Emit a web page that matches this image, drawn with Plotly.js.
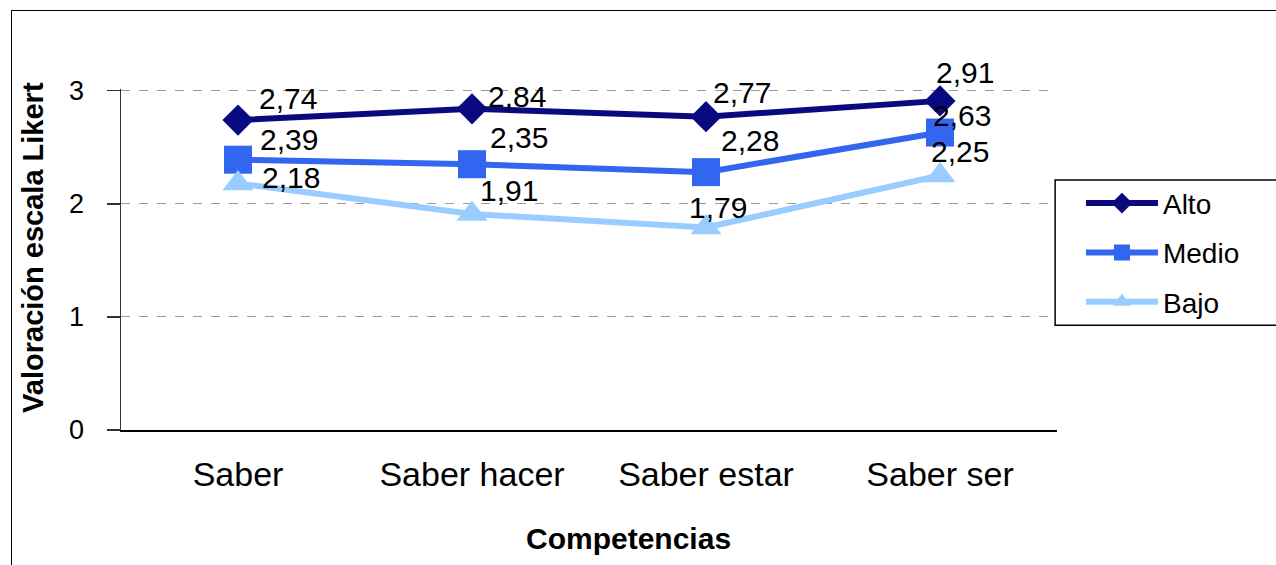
<!DOCTYPE html>
<html>
<head>
<meta charset="utf-8">
<script src="https://cdn.plot.ly/plotly-3.0.1.min.js"></script>
<style>
  html, body { margin: 0; padding: 0; background: #fff; }
  #wrap { position: relative; width: 1276px; height: 565px; overflow: hidden; }
  #chart { position: absolute; left: 0; top: 0; width: 1276px; height: 565px; }
  #frame { position: absolute; left: 11px; top: 10px; width: 1280px; height: 600px;
           border: 1.5px solid #000; box-sizing: border-box; pointer-events: none; }
</style>
</head>
<body>
<div id="wrap">
  <div id="chart"></div>
  <div id="frame"></div>
</div>
<script>
// ---- data ----
const categories = ["Saber", "Saber hacer", "Saber estar", "Saber ser"];
const alto  = [2.74, 2.84, 2.77, 2.91];
const medio = [2.39, 2.35, 2.28, 2.63];
const bajo  = [2.18, 1.91, 1.79, 2.25];
const seriesNames = ["Alto", "Medio", "Bajo"];
const yTicks = [0, 1, 2, 3];

// ---- style ----
const colors = ["#0a0a80", "#3366f0", "#99ccff"];
const symbols = ["diamond", "square", "triangle-up"];
const markerSizes = [24, 28, 27];
// label offsets in px (dx, dy up) per series per point
const labelOffsets = [
  [[50, 22], [45, 12], [36, 24], [25, 28]],
  [[51, 20], [47, 27], [44, 32], [22, 17]],
  [[53, 6],  [37, 23], [12, 20], [20, 24]]
];
const FONT = "Liberation Sans, Arial, sans-serif";

const seriesData = [alto, medio, bajo];
const traces = seriesData.map((vals, i) => ({
  type: "scatter",
  mode: "lines+markers",
  x: categories,
  y: vals,
  name: seriesNames[i],
  legendgroup: "g" + i,
  line: { color: colors[i], width: 6 },
  marker: { color: colors[i], symbol: symbols[i], size: markerSizes[i] },
  cliponaxis: false
}));

const annotations = [];
seriesData.forEach((vals, i) => {
  vals.forEach((v, j) => {
    annotations.push({
      x: categories[j], y: v, xref: "x", yref: "y",
      text: v.toFixed(2).replace(".", ","),
      showarrow: false,
      xshift: labelOffsets[i][j][0],
      yshift: labelOffsets[i][j][1],
      font: { family: FONT, size: 30, color: "#000" }
    });
  });
});
// axis titles
annotations.push({
  xref: "paper", yref: "paper", x: 0.5417, y: -0.318,
  xanchor: "center", yanchor: "middle",
  text: "<b>Competencias</b>", showarrow: false,
  font: { family: FONT, size: 30, color: "#000" }
});
annotations.push({
  xref: "paper", yref: "paper", x: -0.094, y: 0.534,
  xanchor: "center", yanchor: "middle", textangle: -90,
  text: "<b>Valoración escala Likert</b>", showarrow: false,
  font: { family: FONT, size: 29, color: "#000" }
});

const layout = {
  width: 1276, height: 565,
  margin: { l: 121, r: 219, t: 89, b: 135 },
  paper_bgcolor: "#fff", plot_bgcolor: "#fff",
  font: { family: FONT, color: "#000" },
  showlegend: true,
  legend: {
    x: 1.0256, xanchor: "left", y: 0.738, yanchor: "top",
    borderwidth: 0, bgcolor: "rgba(0,0,0,0)",
    font: { family: FONT, size: 28, color: "#000" },
    tracegroupgap: 10, itemwidth: 72
  },
  shapes: [{
    type: "rect", xref: "paper", yref: "paper",
    x0: 0.998, x1: 1.3, y0: 0.307, y1: 0.733,
    line: { color: "#000", width: 1.5 }, fillcolor: "rgba(0,0,0,0)"
  }],
  xaxis: {
    type: "category",
    range: [-0.5, 3.5],
    showgrid: false, zeroline: false,
    showline: true, linecolor: "#000", linewidth: 1.5,
    ticks: "", ticklabelstandoff: 14,
    tickfont: { family: FONT, size: 34, color: "#000" }
  },
  yaxis: {
    range: [0, 3.015],
    tickvals: yTicks,
    ticktext: yTicks.map(String),
    showgrid: true, gridcolor: "#9a9a9a", griddash: "dash", gridwidth: 1,
    zeroline: false,
    showline: true, linecolor: "#333", linewidth: 1.5,
    ticks: "outside", ticklen: 13, tickcolor: "#333", tickwidth: 1.5,
    ticklabelstandoff: 17,
    tickfont: { family: FONT, size: 27, color: "#000" }
  },
  annotations: annotations
};

Plotly.newPlot("chart", traces, layout, { displayModeBar: false, staticPlot: true });
</script>
</body>
</html>
